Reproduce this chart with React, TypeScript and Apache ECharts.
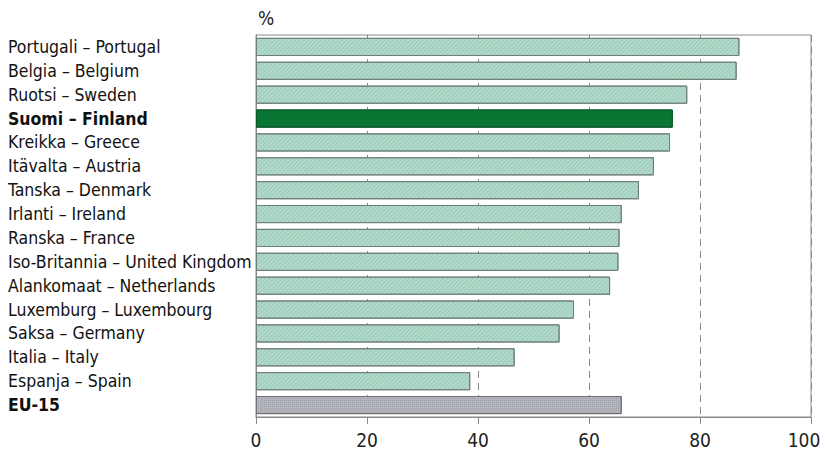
import React, { useEffect, useRef } from "react";
import * as echarts from "echarts";

const categories = [
  "Portugali – Portugal",
  "Belgia – Belgium",
  "Ruotsi – Sweden",
  "Suomi – Finland",
  "Kreikka – Greece",
  "Itävalta – Austria",
  "Tanska – Denmark",
  "Irlanti – Ireland",
  "Ranska – France",
  "Iso-Britannia – United Kingdom",
  "Alankomaat – Netherlands",
  "Luxemburg – Luxembourg",
  "Saksa – Germany",
  "Italia – Italy",
  "Espanja – Spain",
  "EU-15",
];
const values = [87.1, 86.6, 77.7, 75.1, 74.6, 71.7, 69.0, 65.9, 65.5, 65.3, 63.8, 57.3, 54.7, 46.6, 38.6, 65.9];
const boldLabels = ["Suomi – Finland", "EU-15"];
const finlandLabel = "Suomi – Finland";
const euLabel = "EU-15";
const xTicks = [0, 20, 40, 60, 80, 100];

const FONT = "'Liberation Sans Narrow', 'DejaVu Sans Condensed', Arial, sans-serif";

export default function App() {
  const ref = useRef<HTMLDivElement>(null);
  useEffect(() => {
    if (!ref.current) return;
    const chart = echarts.init(ref.current, null, { renderer: "svg" });
    const data = values.map((v, i) => {
      const c = categories[i];
      if (c === finlandLabel) {
        return { value: v, itemStyle: { color: "#0a7634", borderColor: "#0a5a2a", borderWidth: 1, decal: { symbol: "none" } } };
      }
      if (c === euLabel) {
        return {
          value: v,
          itemStyle: {
            color: "#b3b6bc",
            borderColor: "#6f7175",
            borderWidth: 1,
            decal: { symbol: "rect", symbolSize: 1, dashArrayX: [1, 1], dashArrayY: [1, 1], color: "rgba(120,120,130,0.35)", rotation: 0 },
          },
        };
      }
      return {
        value: v,
        itemStyle: {
          color: "#b2dbcb",
          borderColor: "#6d7f77",
          borderWidth: 1,
          decal: { symbol: "rect", symbolSize: 1, dashArrayX: [1, 0], dashArrayY: [1, 2], rotation: -Math.PI / 4, color: "rgba(110,160,140,0.35)" },
        },
      };
    });
    const maxTick = xTicks[xTicks.length - 1];
    chart.setOption({
      animation: false,
      backgroundColor: "#ffffff",
      textStyle: { fontFamily: FONT },
      grid: {
        left: 256, right: 14, top: 35, bottom: 35,
        show: true, borderColor: "#8a8a8a", borderWidth: 1,
        containLabel: false, outerBoundsMode: "none",
      },
      graphic: [
        { type: "text", left: 258, top: 8, style: { text: "%", fontSize: 19, fontFamily: FONT, fill: "#222" } },
      ],
      xAxis: {
        type: "value",
        min: xTicks[0],
        max: maxTick,
        interval: 20,
        axisLine: { show: true, lineStyle: { color: "#8a8a8a" } },
        axisTick: { show: true, length: 7, lineStyle: { color: "#8a8a8a" } },
        axisLabel: {
          fontSize: 19,
          color: "#222",
          margin: 13,
          fontFamily: FONT,
          formatter: (v: number) => (v === maxTick ? `{e|${v}}` : `${v}`),
          rich: { e: { fontSize: 19, color: "#222", fontFamily: FONT, padding: [0, 14, 0, 0] } },
        },
        splitLine: { show: true, lineStyle: { color: "#8a8a8a", type: [7, 5], width: 1 } },
      },
      yAxis: {
        type: "category",
        inverse: true,
        data: categories,
        axisLine: { show: true, lineStyle: { color: "#8a8a8a" } },
        axisTick: { show: false },
        axisLabel: {
          margin: 0,
          fontSize: 17.5,
          color: "#111",
          fontFamily: FONT,
          formatter: (v: string) => (boldLabels.includes(v) ? `{b|${v}}` : `{n|${v}}`),
          rich: {
            n: { width: 248, align: "left", fontSize: 17.5, color: "#111", fontFamily: FONT },
            b: { width: 248, align: "left", fontSize: 17.5, fontWeight: "bold", color: "#111", fontFamily: FONT },
          },
        },
      },
      series: [
        {
          type: "bar",
          data,
          barCategoryGap: "24%",
        },
      ],
      aria: { enabled: false, decal: { show: false } },
    });
    return () => chart.dispose();
  }, []);
  return <div ref={ref} style={{ width: 825, height: 452, position: "absolute", left: 0, top: 0 }} />;
}
